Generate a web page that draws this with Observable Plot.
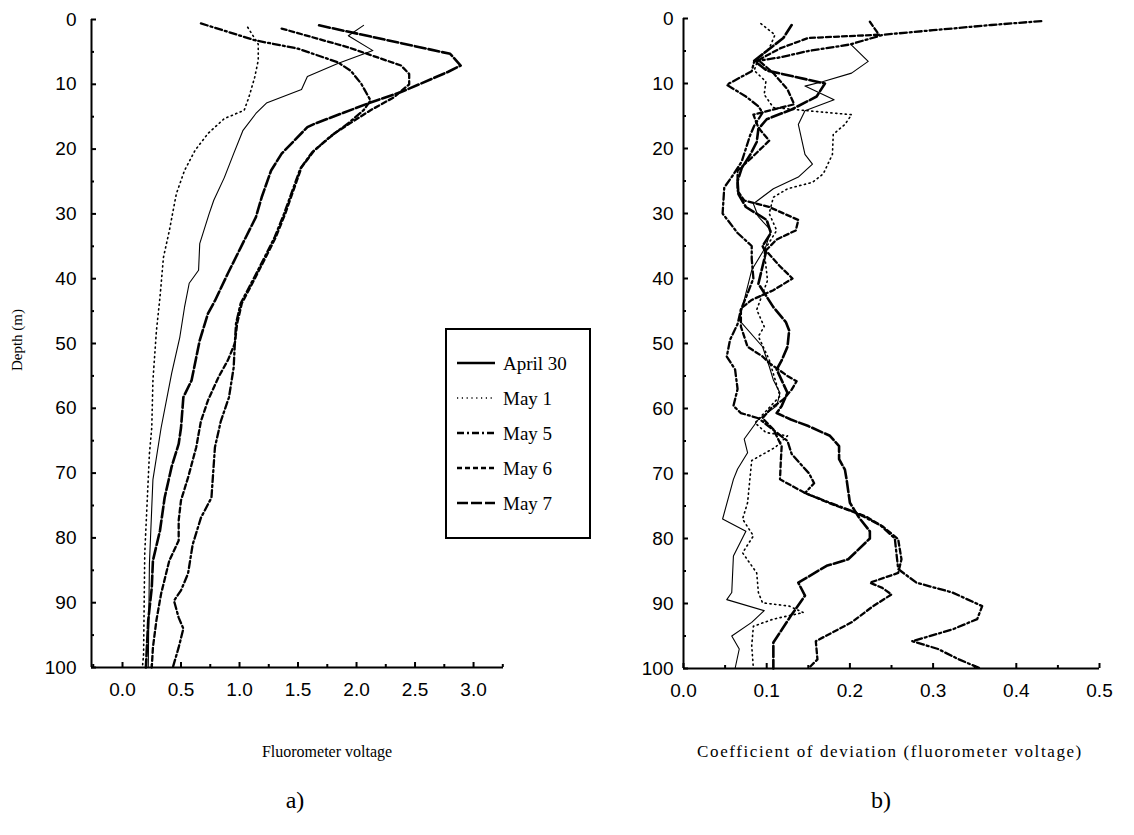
<!DOCTYPE html>
<html>
<head>
<meta charset="utf-8">
<script src="https://cdn.jsdelivr.net/npm/d3@7"></script>
<script src="https://cdn.jsdelivr.net/npm/@observablehq/plot@0.6"></script>
<style>
  body { margin: 0; background: #fff; }
  #wrap { position: relative; width: 1134px; height: 835px; overflow: hidden; background: #fff; }
  #left, #right, #legend { position: absolute; top: 0; }
  #left { left: 0; }
  #right { left: 570px; }
  .cap { position: absolute; font-family: "Liberation Serif", "Times New Roman", serif; color: #000; white-space: nowrap; transform: translate(-50%, -50%); }
</style>
</head>
<body>
<div id="wrap">
  <div id="left"></div>
  <div id="right"></div>
  <div id="legend"></div>
  <div class="cap" style="left:17px;top:340px;font-size:15px;transform:translate(-50%,-50%) rotate(-90deg);">Depth (m)</div>
  <div class="cap" style="left:327px;top:752px;font-size:16px;">Fluorometer voltage</div>
  <div class="cap" style="left:890px;top:752px;font-size:17px;letter-spacing:1.6px;">Coefficient of deviation (fluorometer voltage)</div>
  <div class="cap" style="left:295px;top:800px;font-size:24px;">a)</div>
  <div class="cap" style="left:881px;top:800px;font-size:24px;">b)</div>
</div>
<script>
// ---------- Data: [value, depth (m)] ----------
const seriesNames = ["April 30", "May 1", "May 5", "May 6", "May 7"];

// a) Fluorometer voltage profiles
const voltApr30 = [[2.06,0.9],[1.93,2.5],[2.14,4.8],[1.84,6.8],[1.58,8.8],[1.53,10.8],[1.23,12.9],[1.14,14.5],[1.03,17.1],[0.95,20.7],[0.87,24.4],[0.78,27.9],[0.74,30],[0.66,34.6],[0.65,38.7],[0.57,40.7],[0.53,44.4],[0.49,49],[0.42,54.6],[0.33,63],[0.26,71],[0.23,84],[0.22,100]];
const voltMay1 = [[1.07,1.2],[1.16,3.8],[1.16,6.3],[1.13,8.9],[1.08,12],[1.04,14],[0.87,15.3],[0.73,17.6],[0.62,20.2],[0.53,23.3],[0.46,26.9],[0.40,32.6],[0.35,36.7],[0.32,42.9],[0.29,48],[0.26,55.7],[0.25,63],[0.23,67],[0.19,82.4],[0.18,98],[0.17,100]];
const voltMay5 = [[0.67,0.6],[1.13,3.2],[1.5,4.5],[1.84,6.6],[1.95,7.9],[2.04,9.9],[2.12,12.5],[2.06,14],[1.93,16],[1.78,18],[1.62,20.5],[1.52,23],[1.46,26],[1.38,30],[1.30,33.6],[1.20,37.2],[1.10,40.7],[1.01,43.8],[0.97,46.9],[0.96,50],[0.95,53.7],[0.91,58.3],[0.84,62],[0.79,66],[0.76,73.8],[0.67,76.9],[0.60,81],[0.56,85.5],[0.50,88.1],[0.44,89.7],[0.48,92.3],[0.52,94],[0.48,96.9],[0.43,100]];
const voltMay6 = [[1.36,1.4],[1.93,4.3],[2.38,7.1],[2.45,8.4],[2.45,10],[2.32,12],[2.12,14],[1.98,15.6],[1.81,17.6],[1.64,20.2],[1.53,22.8],[1.47,25.9],[1.39,30],[1.31,33.6],[1.21,37.2],[1.11,40.7],[1.02,43.8],[0.98,46.9],[0.96,50],[0.90,52.6],[0.82,55.2],[0.73,58.8],[0.67,62],[0.63,66],[0.56,70.7],[0.50,74.2],[0.48,77.3],[0.48,80.4],[0.40,83.5],[0.33,88.6],[0.29,92.7],[0.26,96.9],[0.25,100]];
const voltMay7 = [[1.68,0.9],[2.8,5.3],[2.89,7.1],[2.78,8.1],[2.38,11.2],[2.12,12.8],[1.64,16.1],[1.58,16.6],[1.36,20.7],[1.27,23.3],[1.19,27.4],[1.14,30.5],[1.01,35.2],[0.90,39.2],[0.79,43.4],[0.73,45.4],[0.66,49.5],[0.59,55.7],[0.52,58.3],[0.50,63],[0.48,65.5],[0.42,69],[0.36,73.8],[0.32,78.9],[0.26,83.5],[0.25,87.7],[0.22,92.7],[0.20,100]];

// b) Coefficient of deviation profiles
const cvApr30 = [[0.202,4.1],[0.222,6.6],[0.202,8.4],[0.168,9.7],[0.146,10.4],[0.181,12.5],[0.146,14.2],[0.138,16.3],[0.146,20.9],[0.155,22.4],[0.138,24.4],[0.108,26.2],[0.084,28.5],[0.09,30.5],[0.105,32.6],[0.099,35.1],[0.082,38.7],[0.073,43.3],[0.067,46.4],[0.095,50.5],[0.103,53.5],[0.108,55.6],[0.116,57.6],[0.112,59.6],[0.09,61.7],[0.073,64.7],[0.077,66.8],[0.065,69.3],[0.06,70.9],[0.047,77],[0.075,78.9],[0.06,82.7],[0.058,88.3],[0.052,89.4],[0.097,91.1],[0.082,92.9],[0.058,95],[0.067,97],[0.062,100]];
const cvMay1 = [[0.093,0.8],[0.11,2.5],[0.103,4.6],[0.09,6.1],[0.085,8],[0.099,9.7],[0.097,11.7],[0.108,13.7],[0.15,14.2],[0.202,14.8],[0.194,16.3],[0.18,17.8],[0.179,20.9],[0.168,23.9],[0.155,25.2],[0.125,26.2],[0.108,27.5],[0.103,30],[0.112,32.6],[0.097,35.7],[0.101,40.3],[0.088,44.8],[0.097,47.4],[0.09,48.9],[0.103,52.5],[0.116,58.1],[0.086,62.2],[0.099,63.7],[0.125,64.2],[0.11,66],[0.082,68],[0.077,74.5],[0.071,77],[0.084,79.6],[0.071,82.2],[0.088,85.3],[0.09,88.3],[0.095,89.9],[0.127,90.4],[0.144,91.4],[0.108,92.4],[0.084,93.5],[0.082,96.5],[0.084,100]];
const cvMay5 = [[0.43,0.4],[0.37,1],[0.30,1.8],[0.24,2.5],[0.20,4],[0.15,5],[0.115,6],[0.085,6.6],[0.082,8.1],[0.052,10.2],[0.075,12],[0.09,13.5],[0.095,14.5],[0.085,16.5],[0.08,18],[0.075,20],[0.07,22],[0.06,24],[0.049,26],[0.047,30],[0.065,33],[0.082,35],[0.082,37],[0.084,40],[0.077,42.3],[0.069,44.8],[0.065,47],[0.056,49.4],[0.052,52],[0.062,54],[0.065,57],[0.06,59.6],[0.069,60.7],[0.09,61.5],[0.11,63.5],[0.125,65],[0.13,67],[0.151,70],[0.157,71.5],[0.146,73],[0.176,74.5],[0.207,76],[0.237,78],[0.254,80],[0.258,84.7],[0.28,86.8],[0.323,88.3],[0.359,90.4],[0.353,92.4],[0.323,94],[0.275,95.8],[0.306,97],[0.331,98.6],[0.357,100]];
const cvMay6 = [[0.224,0.5],[0.235,2.5],[0.15,3],[0.116,4.6],[0.09,6.4],[0.108,8.4],[0.125,10.9],[0.133,13.2],[0.084,14.8],[0.09,16.8],[0.103,18.8],[0.082,21.4],[0.065,23.4],[0.065,26.5],[0.073,28],[0.103,29],[0.138,31],[0.135,32.6],[0.112,34],[0.099,35.7],[0.115,38],[0.131,40],[0.108,41.8],[0.082,43.3],[0.069,44.6],[0.069,47.4],[0.077,50.5],[0.095,52],[0.103,53],[0.125,55],[0.136,55.8],[0.13,57.1],[0.12,58.6],[0.105,60],[0.095,61.5],[0.108,63.2],[0.118,65.8],[0.117,68],[0.116,70.9],[0.146,73],[0.18,74.8],[0.219,76.6],[0.239,78.1],[0.258,80.1],[0.262,83.2],[0.258,85.3],[0.224,86.8],[0.239,87.6],[0.25,88.6],[0.228,90.4],[0.202,92.9],[0.159,95.8],[0.161,98.6],[0.15,100]];
const cvMay7 = [[0.13,1],[0.12,3],[0.10,5],[0.085,6.5],[0.10,8],[0.17,10],[0.16,12],[0.13,14],[0.10,15.5],[0.09,17],[0.088,19],[0.08,21],[0.07,23],[0.065,25],[0.066,27],[0.075,29],[0.10,31],[0.105,33],[0.095,35],[0.099,36],[0.09,40.8],[0.108,44.4],[0.123,46.7],[0.127,48],[0.125,50.5],[0.118,52.6],[0.112,54],[0.125,57.6],[0.118,59.6],[0.112,60.7],[0.129,61.7],[0.15,62.7],[0.176,64.2],[0.187,65.8],[0.187,67.8],[0.194,69.4],[0.196,70.9],[0.2,74.5],[0.211,76.8],[0.224,78.9],[0.224,80],[0.198,83.2],[0.172,84.2],[0.138,86.8],[0.146,88.8],[0.129,91.9],[0.108,96],[0.108,100]];

// Ticks
const depthMajor = [0, 10, 20, 30, 40, 50, 60, 70, 80, 90, 100];
const depthMinor = [5, 15, 25, 35, 45, 55, 65, 75, 85, 95];
const voltMajor = [0, 0.5, 1, 1.5, 2, 2.5, 3];
const voltMinor = [-0.25, 0.25, 0.75, 1.25, 1.75, 2.25, 2.75, 3.25];
const cvMajor = [0, 0.1, 0.2, 0.3, 0.4, 0.5];
const cvMinor = [0.05, 0.15, 0.25, 0.35, 0.45];

// Line styles per series
const styles = [
  {strokeWidth: 1.1, strokeDasharray: null},
  {strokeWidth: 1.6, strokeDasharray: "1.2,3.6"},
  {strokeWidth: 2.3, strokeDasharray: "7,3,2,3"},
  {strokeWidth: 2.3, strokeDasharray: "5,3"},
  {strokeWidth: 2.6, strokeDasharray: "11,3"}
];

function panel({series, xDomain, xMajor, xMinor, width, marginLeft, marginRight, marginTop, marginBottom, yPad}) {
  const H = 835;
  const plotW = width - marginLeft - marginRight;
  const plotH = H - marginTop - marginBottom;
  const lines = series.map((s, i) => Plot.line(s, {
    x: d => d[0], y: d => d[1], stroke: "black",
    strokeWidth: styles[i].strokeWidth, strokeDasharray: styles[i].strokeDasharray,
    strokeLinejoin: "round"
  }));
  return Plot.plot({
    width, height: H, marginLeft, marginRight, marginTop, marginBottom,
    style: {fontFamily: "'Liberation Sans', Arial, sans-serif", fontSize: "19px", background: "white", color: "black", overflow: "visible"},
    x: {domain: xDomain, label: null},
    y: {domain: [0, 100], reverse: true, label: null},
    marks: [
      ...lines,
      Plot.ruleY([100], {strokeWidth: 2}),
      Plot.ruleX([xDomain[0]], {strokeWidth: 2}),
      Plot.tickX(xMajor, {x: d => d, insetTop: plotH - 5, strokeWidth: 2}),
      Plot.tickX(xMinor, {x: d => d, insetTop: plotH - 3, strokeWidth: 2}),
      Plot.tickY(depthMajor, {y: d => d, insetRight: plotW - 5, strokeWidth: 2}),
      Plot.tickY(depthMinor, {y: d => d, insetRight: plotW - 3, strokeWidth: 2}),
      Plot.axisX(xMajor, {tickSize: 0, tickPadding: 15, tickFormat: d3.format(".1f"), label: null}),
      Plot.axisY(depthMajor, {tickSize: 0, tickPadding: yPad, tickFormat: d => String(d), label: null})
    ]
  });
}

document.getElementById("left").append(panel({
  series: [voltApr30, voltMay1, voltMay5, voltMay6, voltMay7],
  xDomain: [-0.265, 3.256], xMajor: voltMajor, xMinor: voltMinor,
  width: 570, marginLeft: 91, marginRight: 67, marginTop: 19, marginBottom: 168, yPad: 15
}));

document.getElementById("right").append(panel({
  series: [cvApr30, cvMay1, cvMay5, cvMay6, cvMay7],
  xDomain: [0, 0.5], xMajor: cvMajor, xMinor: cvMinor,
  width: 564, marginLeft: 113, marginRight: 35, marginTop: 18, marginBottom: 167, yPad: 10
}));

// Legend
const lg = d3.select("#legend")
  .style("left", "445px").style("top", "328px");
const lsvg = lg.append("svg").attr("width", 146).attr("height", 211);
lsvg.append("rect").attr("x", 1).attr("y", 1).attr("width", 144).attr("height", 209)
  .attr("fill", "white").attr("stroke", "black").attr("stroke-width", 2);
seriesNames.forEach((name, i) => {
  const y = 35 + i * 35;
  lsvg.append("line").attr("x1", 12).attr("x2", 50).attr("y1", y).attr("y2", y)
    .attr("stroke", "black").attr("stroke-width", i === 0 ? 2.5 : styles[i].strokeWidth)
    .attr("stroke-dasharray", styles[i].strokeDasharray);
  lsvg.append("text").attr("x", 58).attr("y", y).attr("dy", "0.35em")
    .attr("font-family", "'Liberation Serif', 'Times New Roman', serif").attr("font-size", 19)
    .text(name);
});
</script>
</body>
</html>
